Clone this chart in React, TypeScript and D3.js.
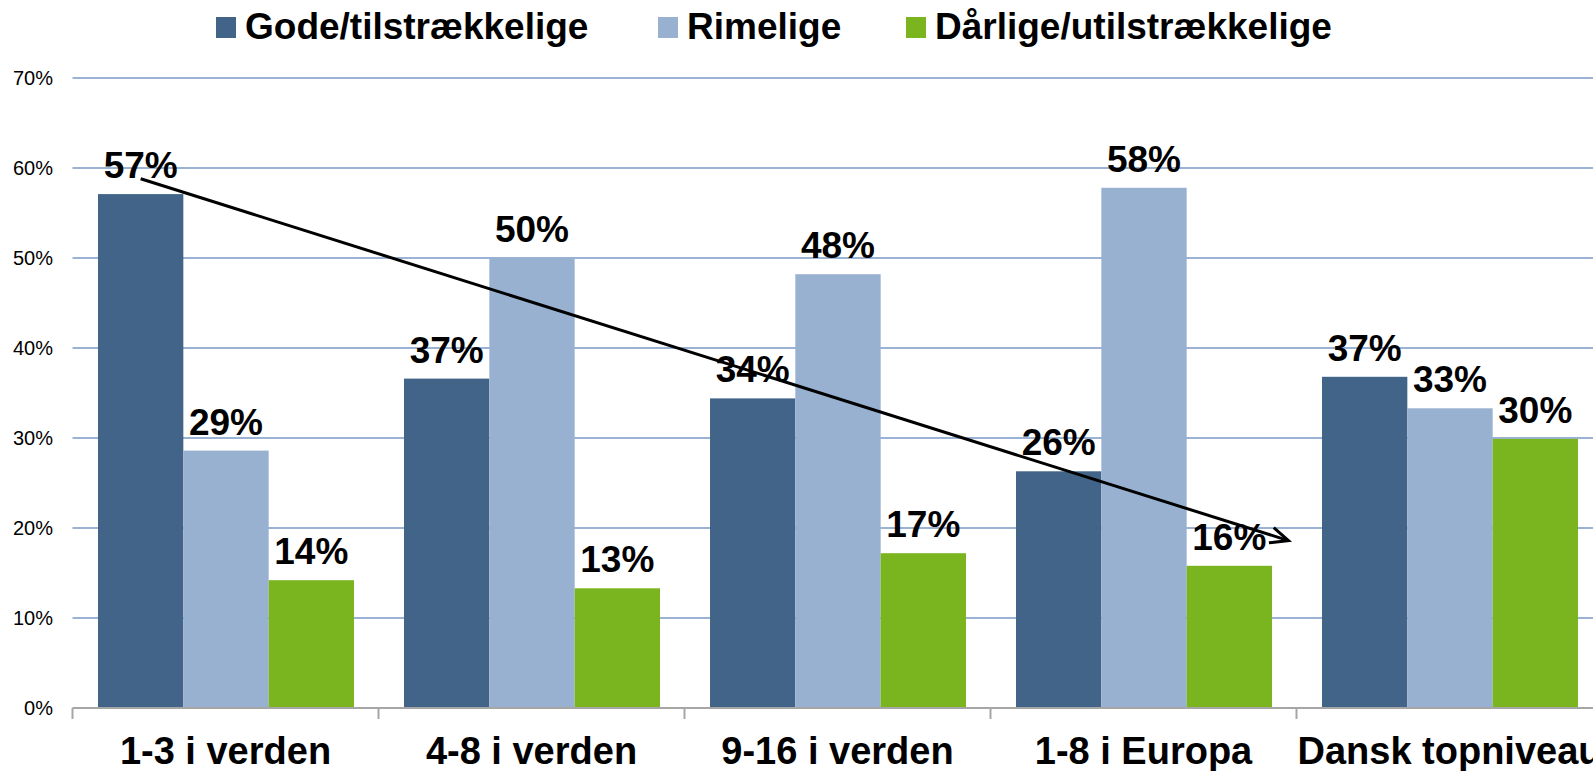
import React, { useEffect, useRef } from "react";
import * as d3 from "d3";

const categories = ["1-3 i verden", "4-8 i verden", "9-16 i verden", "1-8 i Europa", "Dansk topniveau"];
const seriesNames = ["Gode/tilstrækkelige", "Rimelige", "Dårlige/utilstrækkelige"];
const gode = [57.1, 36.6, 34.4, 26.3, 36.8];
const rimelige = [28.6, 50.0, 48.2, 57.8, 33.3];
const daarlige = [14.2, 13.3, 17.2, 15.8, 29.9];
const yTicks = [0, 10, 20, 30, 40, 50, 60, 70];
// trend arrow, in data units
const arrowFrom = { category: "1-3 i verden", value: 58.8 };
const arrowTo = { category: "Dansk topniveau", value: 18.6 };

const colors = ["#416488", "#98b1d1", "#7ab51f"];

export default function App() {
  const ref = useRef<SVGSVGElement>(null);

  useEffect(() => {
    const svg = d3.select(ref.current);
    svg.selectAll("*").remove();

    const W = 1593, H = 771;
    const left = 72.5, bandW = 306, top = 78, bottom = 708;
    const font = "'Liberation Sans', Arial, sans-serif";

    const x0 = d3.scaleBand().domain(categories).range([left, left + bandW * categories.length]);
    const x1 = d3.scaleBand().domain(seriesNames).range([25.5, bandW - 24.5]);
    const y = d3.scaleLinear().domain([0, 70]).range([bottom, top]);

    const values = [gode, rimelige, daarlige];

    // gridlines
    svg.append("g").selectAll("line").data(yTicks.filter(t => t > 0)).join("line")
      .attr("x1", left).attr("x2", W).attr("y1", d => y(d)).attr("y2", d => y(d))
      .attr("stroke", "#9ab2d4").attr("stroke-width", 2);

    // y tick labels
    svg.append("g").selectAll("text").data(yTicks).join("text")
      .attr("x", 53).attr("y", d => y(d)).attr("dy", "0.36em")
      .attr("text-anchor", "end").style("font-family", font).style("font-size", "20px")
      .text(d => d + "%");

    // bars
    const groups = svg.append("g").selectAll("g").data(categories).join("g")
      .attr("transform", d => `translate(${x0(d)},0)`);
    groups.selectAll("rect").data((c, i) => seriesNames.map((s, k) => ({ s, k, v: values[k][i] }))).join("rect")
      .attr("x", d => x1(d.s)!).attr("width", x1.bandwidth())
      .attr("y", d => y(d.v)).attr("height", d => bottom - y(d.v))
      .attr("fill", d => colors[d.k]);

    // value labels
    groups.selectAll("text").data((c, i) => seriesNames.map((s, k) => ({ s, k, v: values[k][i] }))).join("text")
      .attr("x", d => x1(d.s)! + x1.bandwidth() / 2).attr("y", d => y(d.v) - 16)
      .attr("text-anchor", "middle").style("font-family", font).style("font-size", "37px").style("font-weight", "bold")
      .text(d => Math.round(d.v) + "%");

    // x axis
    svg.append("line").attr("x1", left).attr("x2", W).attr("y1", bottom).attr("y2", bottom)
      .attr("stroke", "#a6a6a6").attr("stroke-width", 2);
    svg.append("g").selectAll("line").data(d3.range(categories.length + 1)).join("line")
      .attr("x1", i => left + i * bandW).attr("x2", i => left + i * bandW)
      .attr("y1", bottom).attr("y2", bottom + 11)
      .attr("stroke", "#a6a6a6").attr("stroke-width", 2);
    svg.append("g").selectAll("text").data(categories).join("text")
      .attr("x", d => x0(d)! + bandW / 2).attr("y", 764)
      .attr("text-anchor", "middle").style("font-family", font).style("font-size", "38px").style("font-weight", "bold")
      .text(d => d);

    // legend
    const legendX = [216, 658, 906];
    const leg = svg.append("g").selectAll("g").data(seriesNames).join("g")
      .attr("transform", (d, i) => `translate(${legendX[i]},17)`);
    leg.append("rect").attr("width", 20).attr("height", 21).attr("fill", (d, i) => colors[i]);
    leg.append("text").attr("x", 29).attr("y", 22).style("font-family", font).style("font-size", "37px")
      .style("font-weight", "bold").text(d => d);

    // trend arrow
    svg.append("defs").append("marker").attr("id", "arrowhead")
      .attr("markerUnits", "userSpaceOnUse").attr("markerWidth", 30).attr("markerHeight", 30)
      .attr("refX", 20).attr("refY", 10).attr("orient", "auto").attr("viewBox", "0 0 30 30")
      .append("path").attr("d", "M2,2 L20,10 L2,18").attr("fill", "none").attr("stroke", "#000").attr("stroke-width", 3);
    svg.append("line")
      .attr("x1", x0(arrowFrom.category)! + x1(seriesNames[0])! + x1.bandwidth() / 2)
      .attr("y1", y(arrowFrom.value))
      .attr("x2", x0(arrowTo.category)! - 8)
      .attr("y2", y(arrowTo.value))
      .attr("stroke", "#000").attr("stroke-width", 3).attr("marker-end", "url(#arrowhead)");

    svg.attr("width", W).attr("height", H);
  }, []);

  return (
    <svg ref={ref} width={1593} height={771} style={{ position: "absolute", left: 0, top: 0, background: "#fff" }} />
  );
}
